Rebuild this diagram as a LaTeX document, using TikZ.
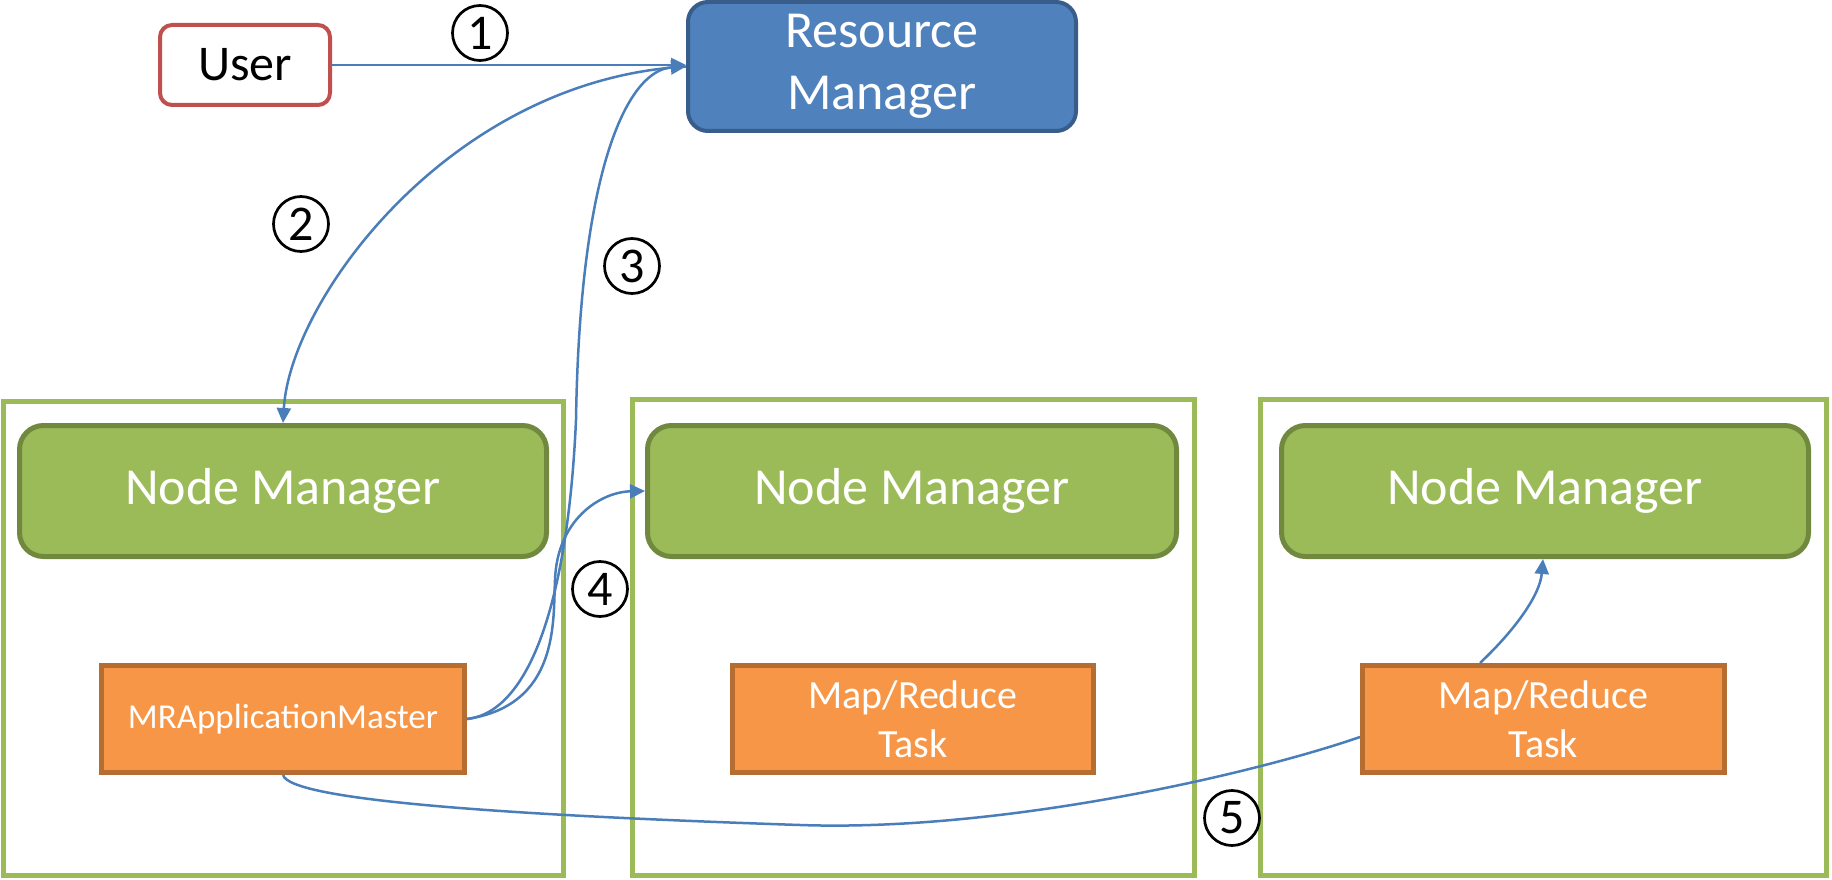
\documentclass[tikz,border=0pt]{standalone}
\usepackage{fontspec}
\setmainfont{Carlito}
\usetikzlibrary{arrows.meta}
\definecolor{conn}{HTML}{4A7EBB}
\definecolor{rmfill}{HTML}{4F81BD}
\definecolor{rmdraw}{HTML}{385D8A}
\definecolor{userdraw}{HTML}{C0504D}
\definecolor{nmfill}{HTML}{9BBB59}
\definecolor{nmdraw}{HTML}{71893F}
\definecolor{taskfill}{HTML}{F79646}
\definecolor{taskdraw}{HTML}{B66D31}
\tikzset{
  hostbox/.style={draw=nmfill, line width=5pt, fill=white, minimum width=560pt, minimum height=474pt, inner sep=0pt},
  nmbox/.style={draw=nmdraw, fill=nmfill, line width=5pt, rounded corners=24pt, minimum width=528pt, minimum height=131pt, inner sep=0pt, text=white, font=\fontsize{52}{62}\selectfont},
  taskbox/.style={draw=taskdraw, fill=taskfill, line width=5pt, minimum width=362pt, minimum height=107pt, inner sep=0pt, text=white, align=center},
  conn/.style={draw=conn, line width=2.5pt},
  tip/.style={-{Triangle[length=15pt,width=14pt]}},
  num/.style={circle, draw=black, line width=2.7pt, minimum size=55pt, inner sep=0pt, font=\fontsize{50}{54}\selectfont}
}
\begin{document}
\begin{tikzpicture}[x=1pt,y=-1pt]
\useasboundingbox (0,0) rectangle (1832,880);
% hosts
\node[hostbox] (h1) at (283.5,638) {};
\node[hostbox, minimum width=562pt, minimum height=476pt] (h2) at (913.5,637.5) {};
\node[hostbox, minimum width=566pt, minimum height=476pt] (h3) at (1543.5,637.5) {};
% node managers
\node[nmbox, minimum width=527pt] (nm1) at (283,491) {Node Manager};
\node[nmbox, minimum width=529pt] (nm2) at (912,491) {Node Manager};
\node[nmbox, minimum width=527pt] (nm3) at (1545,491) {Node Manager};
% tasks
\node[taskbox, minimum width=363pt, font=\fontsize{35}{42}\selectfont] (mram) at (283,719) {MRApplicationMaster};
\node[taskbox, minimum width=361pt, font=\fontsize{40}{49}\selectfont] (mr2) at (913,719) {Map/Reduce\\Task};
\node[taskbox, minimum width=362pt, font=\fontsize{40}{49}\selectfont] (mr3) at (1543.5,719) {Map/Reduce\\Task};
% user and RM
\node[draw=userdraw, line width=4pt, rounded corners=12pt, fill=white, minimum width=170pt, minimum height=80pt, inner sep=0pt, font=\fontsize{50}{60}\selectfont] (user) at (245,65) {User};
\node[draw=rmdraw, fill=rmfill, line width=4pt, rounded corners=20pt, minimum width=388pt, minimum height=129pt, inner sep=0pt, text=white, align=center, font=\fontsize{52}{62}\selectfont] (rm) at (882,66.5) {Resource\\Manager};
% connectors
\draw[conn, tip] (user.east) -- (user.east -| rm.west);
\draw[conn, tip] (rm.west) .. controls (450,80) and (290,300) .. (nm1.north);
\draw[conn, tip] (mram.east) .. controls (530,712) and (568,600) .. (576,420) .. controls (580,160) and (630,70) .. (rm.west);
\draw[conn, tip] (mram.east) .. controls (560,705) and (553,620) .. (555,580) .. controls (557,520) and (600,492) .. (nm2.west);
\draw[conn] (mram.south) .. controls (290,800) and (500,815) .. (800,825) .. controls (1000,832) and (1250,775) .. ([yshift=-18pt]mr3.west);
\draw[conn, tip] ([xshift=-63.5pt]mr3.north) .. controls (1515,630) and (1540,595) .. ([xshift=-2pt]nm3.south);
% step numbers
\node[num] (n1) at (480,33) {1};
\node[num] (n2) at (301,224) {2};
\node[num] (n3) at (632,266) {3};
\node[num] (n4) at (600,589) {4};
\node[num] (n5) at (1232,818) {5};
\end{tikzpicture}
\end{document}
